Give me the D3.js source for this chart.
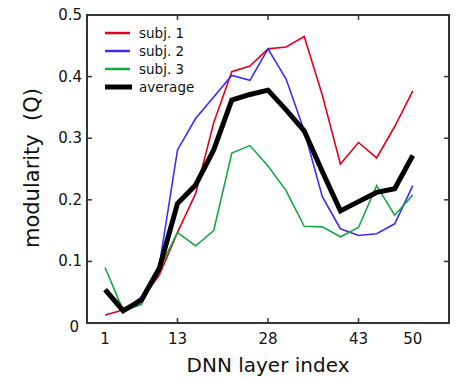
<!DOCTYPE html>
<html>
<head>
<meta charset="utf-8">
<script src="https://cdnjs.cloudflare.com/ajax/libs/d3/7.8.5/d3.min.js"></script>
<style>
body { margin:0; background:#fff; }
text { font-family: "DejaVu Sans", Verdana, sans-serif; fill:#111; }
</style>
</head>
<body>
<script>
// layer index of each sampled point (18 points)
var layers = [1,4,7,10,13,16,19,22,25,28,31,34,37,40,43,46,49,50];
var tickLayers = [1,13,28,43,50];
var markLayers = [13,28,43];
var yTicks = [0,0.1,0.2,0.3,0.4,0.5];

var subj1 = [0.013,0.021,0.037,0.078,0.147,0.210,0.325,0.408,0.417,0.445,0.448,0.465,0.370,0.258,0.293,0.268,0.319,0.377];
var subj2 = [0.054,0.020,0.042,0.094,0.281,0.332,0.367,0.402,0.394,0.445,0.396,0.312,0.205,0.153,0.142,0.145,0.161,0.223];
var subj3 = [0.090,0.020,0.030,0.088,0.147,0.125,0.150,0.276,0.288,0.255,0.215,0.157,0.156,0.140,0.155,0.223,0.175,0.208];
var average = [0.054,0.020,0.037,0.089,0.194,0.224,0.281,0.362,0.371,0.378,0.346,0.312,0.246,0.182,0.197,0.212,0.218,0.272];

var series = [
	{name:"subj. 1", values:subj1, color:"#e8001a", width:1.6},
	{name:"subj. 2", values:subj2, color:"#3d2bff", width:1.6},
	{name:"subj. 3", values:subj3, color:"#14a746", width:1.6},
	{name:"average", values:average, color:"#000000", width:5}
];

var mLeft = 87, mRight = 449, mTop = 15, mBottom = 323;

var svg = d3.select("body").append("svg")
	.attr("width",465)
	.attr("height",380);

// points evenly spaced by index; one empty slot left, two right
var x = d3.scaleLinear().domain([-1, layers.length + 1]).range([mLeft, mRight]);
var y = d3.scaleLinear().domain([0,0.5]).range([mBottom, mTop]);

function xl(layer){ return x(layers.indexOf(layer)); }

var line = d3.line()
	.x(function(d,i){ return x(i); })
	.y(function(d){ return y(d); });

series.forEach(function(s){
	svg.append("path")
		.attr("d", line(s.values))
		.attr("fill","none")
		.attr("stroke", s.color)
		.attr("stroke-width", s.width)
		.attr("stroke-linejoin","miter");
});

// frame
var axisColor = "#333";
svg.append("rect")
	.attr("x",mLeft).attr("y",mTop)
	.attr("width",mRight-mLeft).attr("height",mBottom-mTop)
	.attr("fill","none")
	.attr("stroke",axisColor)
	.attr("stroke-width",2);

// y ticks (inward, both sides)
yTicks.forEach(function(t){
	svg.append("line").attr("x1",mLeft).attr("x2",mLeft+5)
		.attr("y1",y(t)).attr("y2",y(t))
		.attr("stroke",axisColor).attr("stroke-width",1.5);
	svg.append("line").attr("x1",mRight).attr("x2",mRight-5)
		.attr("y1",y(t)).attr("y2",y(t))
		.attr("stroke",axisColor).attr("stroke-width",1.5);
	svg.append("text")
		.attr("x",t === 0 ? mLeft-8 : mLeft-5)
		.attr("y",t === 0 ? y(t)+9 : y(t)+5)
		.attr("text-anchor","end")
		.style("font-size","15px")
		.text(t === 0 ? "0" : d3.format(".1f")(t));
});

// x ticks
markLayers.forEach(function(l){
	svg.append("line").attr("x1",xl(l)).attr("x2",xl(l))
		.attr("y1",mBottom).attr("y2",mBottom-5)
		.attr("stroke",axisColor).attr("stroke-width",1.5);
	svg.append("line").attr("x1",xl(l)).attr("x2",xl(l))
		.attr("y1",mTop).attr("y2",mTop+5)
		.attr("stroke",axisColor).attr("stroke-width",1.5);
});
tickLayers.forEach(function(l){
	svg.append("text")
		.attr("x",xl(l))
		.attr("y",344)
		.attr("text-anchor","middle")
		.style("font-size","15px")
		.text(l);
});

// axis titles
svg.append("text")
	.attr("x",(mLeft+mRight)/2)
	.attr("y",372)
	.attr("text-anchor","middle")
	.style("font-size","20px")
	.text("DNN layer index");

svg.append("text")
	.attr("transform","translate(39,168) rotate(-90)")
	.attr("text-anchor","middle")
	.style("font-size","21px")
	.style("white-space","pre")
	.text("modularity  (Q)");

// legend
var legend = svg.append("g").attr("transform","translate(105,33)");
series.forEach(function(s,i){
	legend.append("line")
		.attr("x1",0).attr("x2",s.width > 2 ? 27 : 25)
		.attr("y1",i*18).attr("y2",i*18)
		.attr("stroke",s.color)
		.attr("stroke-width", s.width > 2 ? 5 : 2.5);
	legend.append("text")
		.attr("x",34)
		.attr("y",i*18+5)
		.style("font-size","13.5px")
		.text(s.name);
});
</script>
</body>
</html>
